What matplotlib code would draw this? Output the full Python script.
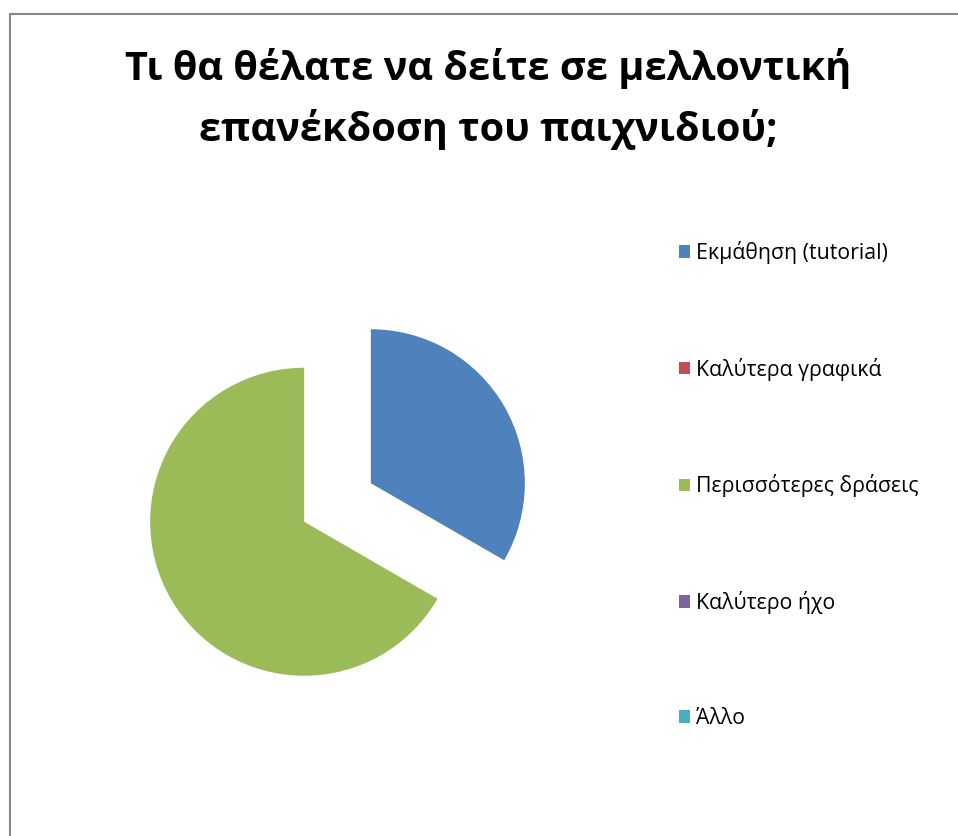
import matplotlib
matplotlib.use("Agg")
import matplotlib.pyplot as plt
from matplotlib.patches import Rectangle

plt.rcParams['font.family'] = ['Open Sans', 'Noto Sans', 'DejaVu Sans']

title = "Τι θα θέλατε να δείτε σε μελλοντική\nεπανέκδοση του παιχνιδιού;"
labels = ["Εκμάθηση (tutorial)", "Καλύτερα γραφικά", "Περισσότερες δράσεις",
          "Καλύτερο ήχο", "Άλλο"]
values = [1, 0, 2, 0, 0]
colors = ["#4F81BD", "#C0504D", "#9BBB59", "#8064A2", "#4BACC6"]
explode = [0.25, 0, 0.25, 0, 0]

W, H = 958, 836
fig = plt.figure(figsize=(W / 100, H / 100), dpi=100)

# chart frame (runs off the right and bottom edges)
fig.patches.append(Rectangle((10 / W, -0.1), 1.2, 1.1 - 14 / H,
                             transform=fig.transFigure, fill=False,
                             edgecolor="#868686", linewidth=1.5))

fig.text(488 / W, 1 - 99 / H, title, ha="center", va="center",
         fontsize=28.6, fontweight="bold", linespacing=1.6)

# pie: radius 154 px, centre near (337, 503)
r = 154
cx, cy = 337.5, 502.5
ax = fig.add_axes([(cx - 1.5 * r) / W, (H - cy - 1.5 * r) / H, 3 * r / W, 3 * r / H])
wedges, _ = ax.pie(values, colors=colors, explode=explode, startangle=90,
                   counterclock=False, radius=1,
                   wedgeprops=dict(linewidth=0))
ax.set_xlim(-1.5, 1.5)
ax.set_ylim(-1.5, 1.5)
ax.set_aspect("equal")
ax.axis("off")

fig.legend(wedges, labels, loc="upper left",
           bbox_to_anchor=(668 / W, 1 - 230 / H), frameon=False,
           fontsize=15.3, handlelength=0.55, handleheight=0.55,
           handletextpad=0.25, labelspacing=4.42, borderpad=0)

fig.savefig("out.png", dpi=100, facecolor="white")
